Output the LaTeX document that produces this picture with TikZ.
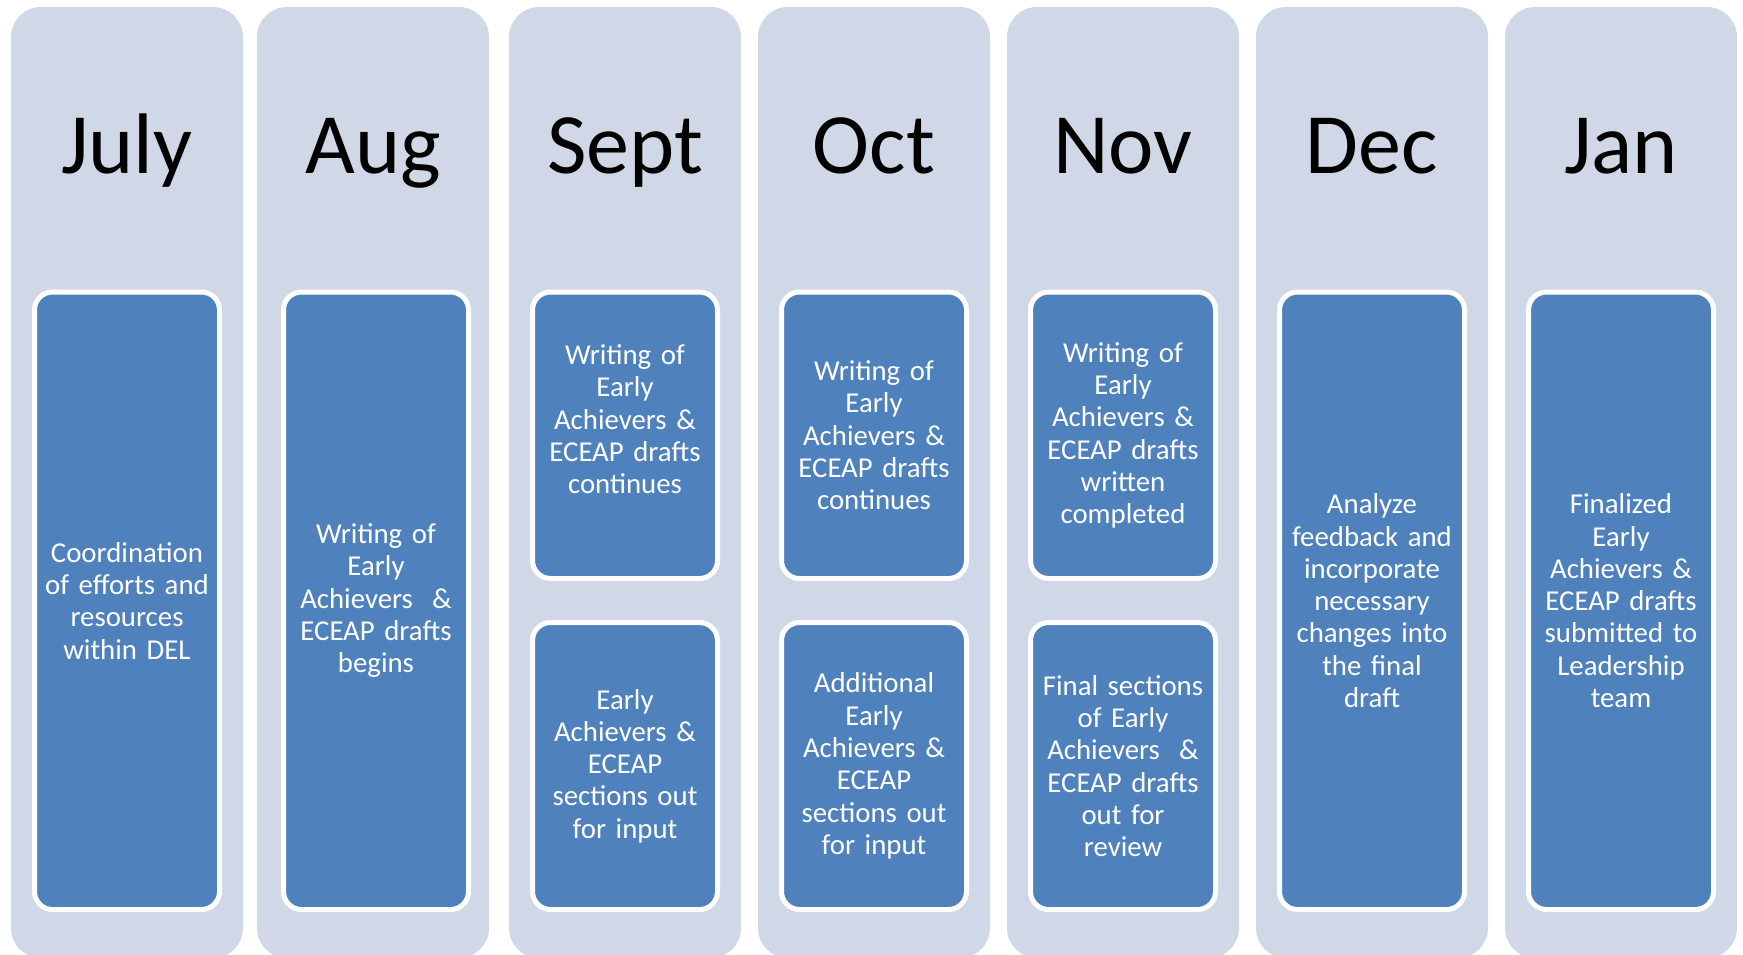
\documentclass[tikz,border=0pt]{standalone}
\usepackage{fontspec}
\setmainfont{Carlito}
\definecolor{colbg}{HTML}{D0D8E8}
\definecolor{taskblue}{HTML}{4F81BD}
\tikzset{
  colbox/.style={fill=colbg, draw=none, rounded corners=30pt, minimum width=232pt, minimum height=951pt, inner sep=0pt},
  task/.style={fill=taskblue, draw=white, line width=5pt, rounded corners=18pt, minimum width=185pt, text width=185pt, align=center, inner sep=0pt, text=white, font=\fontsize{28.8}{32.3}\selectfont},
  month/.style={anchor=base, inner sep=0pt, font=\fontsize{86}{100}\selectfont},
}
\begin{document}
\begin{tikzpicture}[x=1pt,y=-1pt]
\useasboundingbox (0,0) rectangle (1743,954);
% columns
\node[colbox] (cJul) at (127,482.5) {};
\node[colbox] (cAug) at (373,482.5) {};
\node[colbox] (cSep) at (625,482.5) {};
\node[colbox] (cOct) at (874,482.5) {};
\node[colbox] (cNov) at (1123,482.5) {};
\node[colbox] (cDec) at (1372,482.5) {};
\node[colbox] (cJan) at (1621,482.5) {};
% month labels
\node[month] (mJul) at (127,173) {July};
\node[month] (mAug) at (373,173) {Aug};
\node[month] (mSep) at (625,173) {Sept};
\node[month] (mOct) at (874,173) {Oct};
\node[month] (mNov) at (1123,173) {Nov};
\node[month] (mDec) at (1372,173) {Dec};
\node[month] (mJan) at (1621,173) {Jan};
% tasks
\node[task, minimum height=617.5pt] (tJul) at (127,600.75) {Coordination\\of efforts and\\resources\\within DEL};
\node[task, minimum height=617.5pt] (tAug) at (376,600.75) {Writing of\\Early\\Achievers\ \ \&\\ECEAP drafts\\begins};
\node[task, minimum height=286.5pt] (tSepA) at (625,435.25) {Writing of\\Early\\Achievers \&\\ECEAP drafts\\continues\\\mbox{}};
\node[task, minimum height=287pt] (tSepB) at (625,766) {Early\\Achievers \&\\ECEAP\\sections out\\for input};
\node[task, minimum height=286.5pt] (tOctA) at (874,435.25) {Writing of\\Early\\Achievers \&\\ECEAP drafts\\continues};
\node[task, minimum height=287pt] (tOctB) at (874,766) {Additional\\Early\\Achievers \&\\ECEAP\\sections out\\for input};
\node[task, minimum height=286.5pt] (tNovA) at (1123,435.25) {Writing of\\Early\\Achievers \&\\ECEAP drafts\\written\\completed};
\node[task, minimum height=287pt] (tNovB) at (1123,766) {Final sections\\of Early\\Achievers\ \ \&\\ECEAP drafts\\out for\\review};
\node[task, minimum height=617.5pt] (tDec) at (1372,600.75) {Analyze\\feedback and\\incorporate\\necessary\\changes into\\the final\\draft};
\node[task, minimum height=617.5pt] (tJan) at (1621,600.75) {Finalized\\Early\\Achievers \&\\ECEAP drafts\\submitted to\\Leadership\\team};
\end{tikzpicture}
\end{document}
